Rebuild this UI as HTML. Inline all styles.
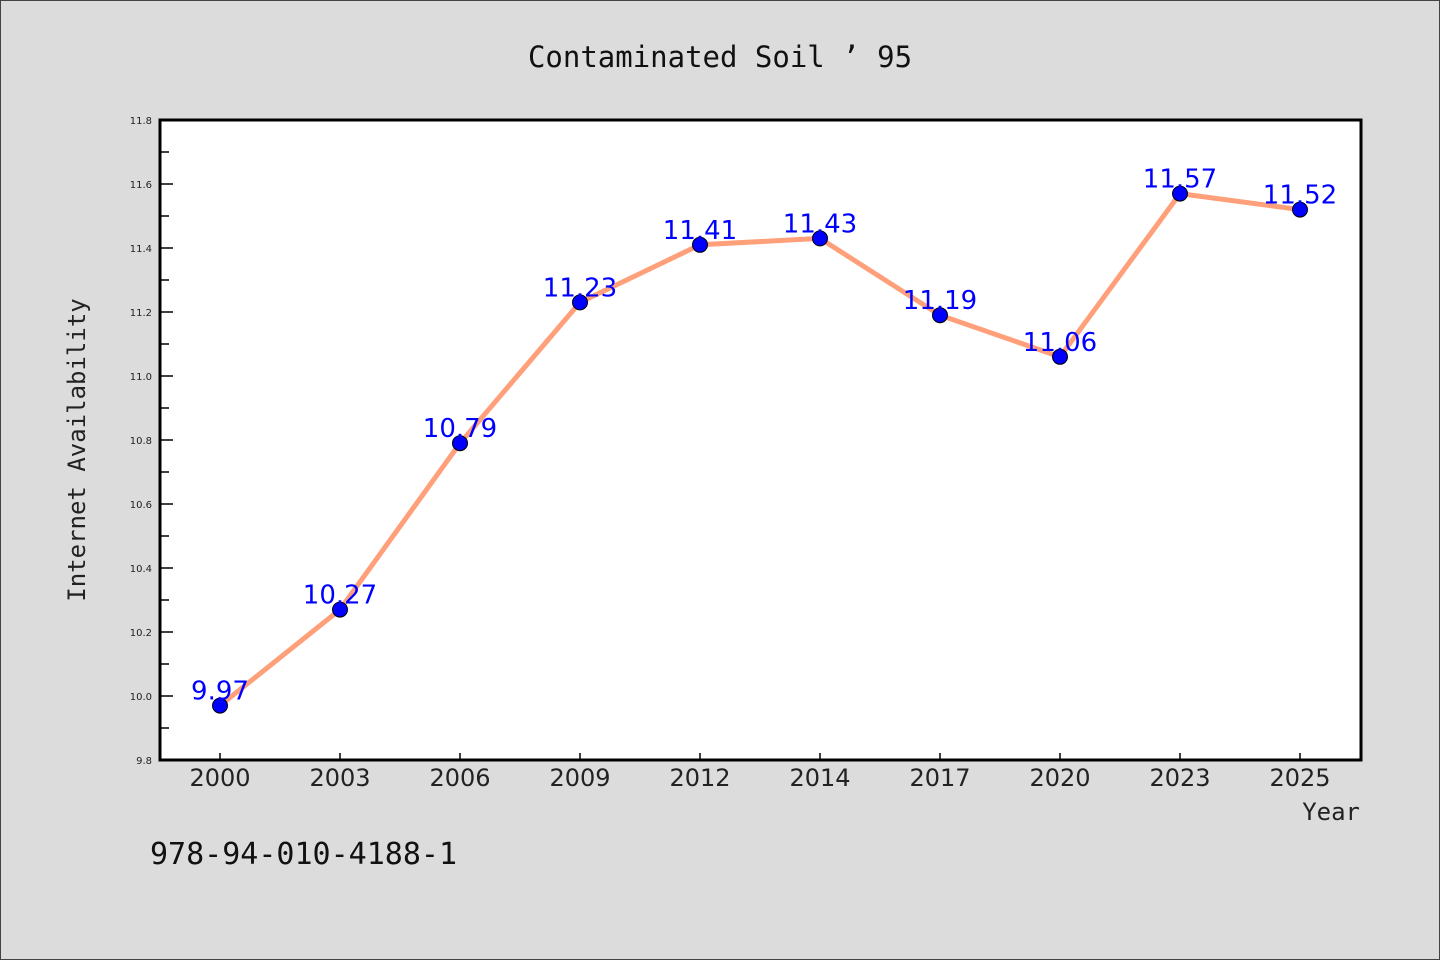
<!DOCTYPE html>
<html><head><meta charset="utf-8"><style>
html,body{margin:0;padding:0;background:#dcdcdc;}
svg{display:block}
</style></head><body>
<svg width="1440" height="960" xmlns="http://www.w3.org/2000/svg">
<rect x="0.5" y="0.5" width="1439" height="959" fill="#dcdcdc" stroke="#444"/>
<text x="720" y="67" text-anchor="middle" font-family="DejaVu Sans Mono, Liberation Mono, monospace" font-size="29" fill="#111">Contaminated Soil ’ 95</text>
<rect x="160" y="120" width="1201" height="640" fill="#fff" stroke="#000" stroke-width="3"/>
<g id="yticks"></g><g id="xticks"></g>
<polyline id="line" fill="none" stroke="#ffa07a" stroke-width="5" stroke-linejoin="round"/>
<g id="points"></g><g id="labels"></g>
<text transform="translate(85,450) rotate(-90)" text-anchor="middle" font-family="DejaVu Sans Mono, Liberation Mono, monospace" font-size="24" fill="#222">Internet Availability</text>
<text x="1360" y="820" text-anchor="end" font-family="DejaVu Sans Mono, Liberation Mono, monospace" font-size="24" fill="#222">Year</text>
<text x="150" y="864" font-family="DejaVu Sans Mono, Liberation Mono, monospace" font-size="30" fill="#111">978-94-010-4188-1</text>
</svg>
<script>
const categories=["2000","2003","2006","2009","2012","2014","2017","2020","2023","2025"];
const values=[9.97,10.27,10.79,11.23,11.41,11.43,11.19,11.06,11.57,11.52];
const valueLabels=["9.97","10.27","10.79","11.23","11.41","11.43","11.19","11.06","11.57","11.52"];
const yTicks=["9.8","10.0","10.2","10.4","10.6","10.8","11.0","11.2","11.4","11.6","11.8"];
const yMin=9.8,yMax=11.8;
const NS="http://www.w3.org/2000/svg";
function xS(i){return 220+i*(1300-220)/(categories.length-1);}
function yS(v){return 760-(v-yMin)/(yMax-yMin)*640;}
function mk(t,a,p){const e=document.createElementNS(NS,t);for(const k in a)e.setAttribute(k,a[k]);p.appendChild(e);return e;}
const yt=document.getElementById('yticks');
yTicks.forEach(t=>{const v=parseFloat(t);const y=yS(v);
 const l=mk('line',{x1:160,x2:173,y1:y,y2:y,stroke:'#000','stroke-width':1.5},yt);
 
 
 const tx=mk('text',{x:152,y:y+4,'text-anchor':'end','font-family':'DejaVu Sans, sans-serif','font-size':10,fill:'#222'},yt);tx.textContent=t;
 
 
 if(v+0.1<yMax+1e-9){const ym=yS(v+0.1);const m=mk('line',{x1:160,x2:169,y1:ym,y2:ym,stroke:'#000','stroke-width':1.5},yt);
 
 }
});
const xt=document.getElementById('xticks');
categories.forEach((c,i)=>{const x=xS(i);
 const l=mk('line',{x1:x,x2:x,y1:753,y2:760,stroke:'#000','stroke-width':1.5},xt);
 
 
 const tx=mk('text',{x:x,y:786,'text-anchor':'middle','font-family':'DejaVu Sans, sans-serif','font-size':24,fill:'#222'},xt);tx.textContent=c;
 
 
});
document.getElementById('line').setAttribute('points',values.map((v,i)=>xS(i)+','+yS(v)).join(' '));
const pg=document.getElementById('points'),lg=document.getElementById('labels');
values.forEach((v,i)=>{
 const c=mk('circle',{cx:xS(i),cy:yS(v),r:7.5,fill:'#0000ff',stroke:'#000','stroke-width':1},pg);
 
 
 const t=mk('text',{x:xS(i),y:yS(v)-6,'text-anchor':'middle','font-family':'DejaVu Sans, sans-serif','font-size':26,fill:'#0000ff'},lg);t.textContent=valueLabels[i];
 
 
});
</script>
</body></html>
